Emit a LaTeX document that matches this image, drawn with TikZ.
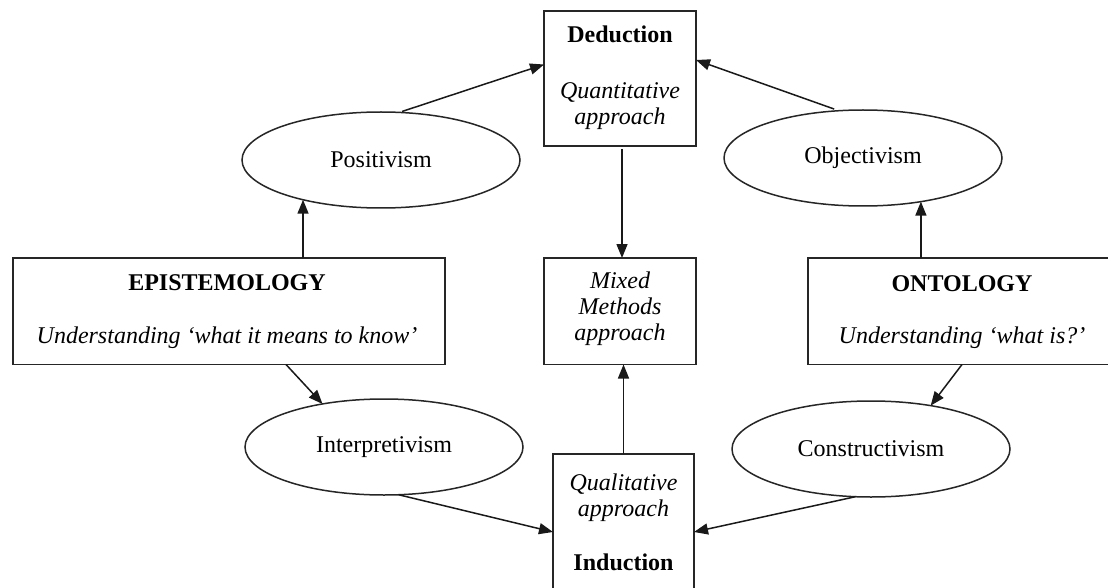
\documentclass[tikz,border=0pt]{standalone}
\usepackage{fontspec}
\setmainfont{Liberation Serif}
\usetikzlibrary{arrows.meta,calc,shapes.geometric}
\begin{document}
\begin{tikzpicture}[x=1pt,y=-1pt,
  box/.style={draw=black!85,line width=1.5pt,rectangle,inner sep=0pt,outer sep=0pt},
  oval/.style={draw=black!85,line width=1.5pt,ellipse,minimum width=278pt,minimum height=96pt,
    inner sep=0pt,outer sep=0pt,font=\fontsize{24}{28}\selectfont},
  txt/.style={anchor=base,inner sep=0pt,font=\fontsize{24}{28}\selectfont},
  txtb/.style={txt,font=\fontsize{24}{28}\selectfont\bfseries},
  txti/.style={txt,font=\fontsize{24}{28}\selectfont\itshape},
  arr/.style={line width=1.5pt,draw=black!90,-{Triangle[length=14pt,width=11pt]}},
]
\clip (0,0) rectangle (1108,588);
\fill[white] (0,0) rectangle (1108,588);

% central column of boxes
\node[box,minimum width=152pt,minimum height=135pt] (ded) at (620,78.5) {};
\node[txtb] (dedT) at (620,43) {Deduction};
\node[txti] (dedQ) at (620,99) {Quantitative};
\node[txti] (dedA) at (620,125) {approach};

\node[box,minimum width=152pt,minimum height=106.5pt] (mix) at (620,311.25) {};
\node[txti] (mixA) at (620,288) {Mixed};
\node[txti] (mixB) at (620,314) {Methods};
\node[txti] (mixC) at (620,340) {approach};

\node[box,minimum width=141pt,minimum height=142pt] (ind) at (623.5,525) {};
\node[txti] (indQ) at (623.5,490) {Qualitative};
\node[txti] (indA) at (623.5,516) {approach};
\node[txtb] (indT) at (623.5,570) {Induction};

% side boxes
\node[box,minimum width=432pt,minimum height=106.5pt] (epi) at (229,311.25) {};
\node[txtb] (epiT) at (227,290) {EPISTEMOLOGY};
\node[txti] (epiU) at (227,343) {Understanding ‘what it means to know’};

\node[box,minimum width=308pt,minimum height=106.5pt] (ont) at (962,311.25) {};
\node[txtb] (ontT) at (962,291) {ONTOLOGY};
\node[txti] (ontU) at (962,343) {Understanding ‘what is?’};

% paradigms
\node[oval] (pos) at (381,160) {Positivism};
\node[oval] (obj) at (863,158) {Objectivism};
\node[oval] (int) at (384,447) {Interpretivism};
\node[oval] (con) at (871,449) {Constructivism};

% connectors
\draw[arr,shorten <=3pt] (pos.69) -- ($(ded.north west)+(0,53.5)$);
\draw[arr,shorten <=5pt] (obj.117) -- ($(ded.north east)+(0,49)$);
\draw[arr,shorten <=3pt] ($(ded.south)+(2,0)$) -- ($(mix.north)+(2,0)$);
\draw[arr] (pos.207.5 |- epi.north) -- (pos.207.5);
\draw[arr] (obj.323.6 |- ont.north) -- (obj.323.6);
\draw[arr] ($(epi.south west)+(273,0)$) -- (int.145);
\draw[arr] (ont.south) -- (con.36);
\draw[arr] (int.287.5) -- ($(ind.north west)+(0,78)$);
\draw[arr] (con.252.6) -- ($(ind.north east)+(0,78)$);
\draw[arr] (ind.north) -- (ind.north |- mix.south);
\end{tikzpicture}
\end{document}
